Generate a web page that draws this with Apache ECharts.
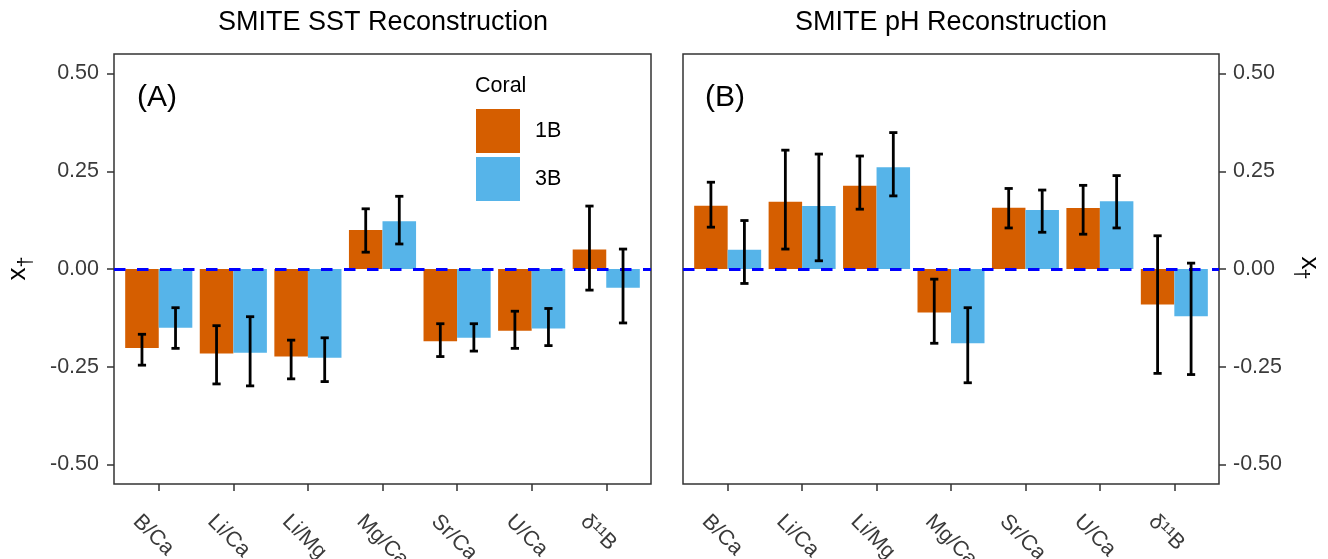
<!DOCTYPE html>
<html><head><meta charset="utf-8">
<script src="https://cdn.jsdelivr.net/npm/echarts@6/dist/echarts.min.js"></script>
<style>html,body{margin:0;padding:0;background:#fff}#c{width:1328px;height:559px}</style>
</head><body><div id="c"></div>
<script>
// ---- data ----
const categories = ['B/Ca', 'Li/Ca', 'Li/Mg', 'Mg/Ca', 'Sr/Ca', 'U/Ca', 'δ¹¹B'];
const positions = [1, 2, 3, 4, 5, 6, 7];
const yTicks = [-0.5, -0.25, 0, 0.25, 0.5];
const seriesNames = ['1B', '3B'];

// (A) SST reconstruction
const sst1B    = [-0.202, -0.216, -0.224, 0.100, -0.185, -0.158, 0.050];
const sst1B_lo = [-0.246, -0.294, -0.281, 0.043, -0.224, -0.203, -0.054];
const sst1B_hi = [-0.167, -0.145, -0.182, 0.154, -0.140, -0.108, 0.161];
const sst3B    = [-0.150, -0.214, -0.227, 0.122, -0.176, -0.152, -0.048];
const sst3B_lo = [-0.203, -0.299, -0.288, 0.064, -0.210, -0.196, -0.138];
const sst3B_hi = [-0.099, -0.122, -0.176, 0.186, -0.140, -0.101, 0.051];

// (B) pH reconstruction
const ph1B    = [0.162, 0.172, 0.213, -0.111, 0.157, 0.156, -0.091];
const ph1B_lo = [0.107, 0.051, 0.153, -0.190, 0.105, 0.089, -0.267];
const ph1B_hi = [0.222, 0.304, 0.289, -0.026, 0.206, 0.214, 0.085];
const ph3B    = [0.049, 0.161, 0.260, -0.190, 0.151, 0.173, -0.121];
const ph3B_lo = [-0.037, 0.021, 0.187, -0.291, 0.094, 0.105, -0.270];
const ph3B_hi = [0.124, 0.294, 0.349, -0.099, 0.202, 0.239, 0.015];

// ---- styling ----
const FONT = '"Liberation Sans", Arial, Helvetica, sans-serif';
const C1 = '#D55E00', C2 = '#56B4E9';
const AX = '#333333', LAB = '#3a3a3a';

function barData(vals) { return vals.map((v, i) => [positions[i], v]); }
function errData(lo, hi, side) { return lo.map((l, i) => [positions[i], l, hi[i], side]); }

function renderErr(params, api) {
  const x = api.value(0), lo = api.value(1), hi = api.value(2), side = api.value(3);
  const band = api.size([1, 0])[0];
  const cx = api.coord([x, 0])[0] + side * band * 0.225;
  const yl = api.coord([x, lo])[1], yh = api.coord([x, hi])[1];
  const cap = band * 0.055;
  const style = { stroke: '#000', lineWidth: 2.8, fill: null };
  return { type: 'group', children: [
    { type: 'line', shape: { x1: cx, y1: yl, x2: cx, y2: yh }, style },
    { type: 'line', shape: { x1: cx - cap, y1: yl, x2: cx + cap, y2: yl }, style },
    { type: 'line', shape: { x1: cx - cap, y1: yh, x2: cx + cap, y2: yh }, style }
  ]};
}

function xAxis(gi) {
  return {
    type: 'value', gridIndex: gi, min: 0.4, max: 7.6,
    splitLine: { show: false }, axisLine: { show: false, onZero: false },
    axisTick: { show: true, customValues: positions, length: 7, lineStyle: { color: AX, width: 1.5 } },
    axisLabel: {
      customValues: positions, formatter: v => ' \n' + categories[Math.round(v) - 1],
      rotate: -45, margin: 12, lineHeight: 63,
      fontSize: 21.5, color: LAB, fontFamily: FONT
    }
  };
}
function yAxis(gi, pos, margin) {
  return {
    type: 'value', gridIndex: gi, position: pos, min: -0.55, max: 0.55,
    splitLine: { show: false }, axisLine: { show: false, onZero: false },
    axisTick: { show: true, customValues: yTicks, length: 7, lineStyle: { color: AX, width: 1.5 } },
    axisLabel: { customValues: yTicks, formatter: v => v.toFixed(2), margin: margin,
      fontSize: 21.5, color: LAB, fontFamily: FONT }
  };
}
function bar(name, gi, vals, color, withLine) {
  const s = {
    type: 'bar', name: name, xAxisIndex: gi, yAxisIndex: gi, data: barData(vals),
    barGap: '0%', barCategoryGap: '10%', itemStyle: { color: color }, z: 2, silent: true
  };
  if (withLine) {
    s.markLine = { silent: true, symbol: ['none', 'none'], label: { show: false },
      lineStyle: { color: '#0000FF', type: [11.5, 11.5], width: 2.8 }, data: [{ yAxis: 0 }], z: 3 };
  }
  return s;
}
function err(gi, lo, hi, side) {
  return { type: 'custom', xAxisIndex: gi, yAxisIndex: gi, data: errData(lo, hi, side),
    renderItem: renderErr, encode: { x: 0, y: [1, 2] }, z: 4, silent: true };
}

const txt = (x, y, text, size, align, extra) => Object.assign({
  type: 'text', x: x, y: y, silent: true,
  style: { text: text, font: size + 'px ' + FONT, fill: '#000', align: align, verticalAlign: 'middle' }
}, extra || {});

const chart = echarts.init(document.getElementById('c'), null, { renderer: 'canvas' });
chart.setOption({
  animation: false,
  backgroundColor: '#fff',
  grid: [
    { left: 114, top: 54, width: 537, height: 430, show: true, borderColor: AX, borderWidth: 1.5, containLabel: false, outerBoundsMode: 'none' },
    { left: 683, top: 54, width: 536, height: 430, show: true, borderColor: AX, borderWidth: 1.5, containLabel: false, outerBoundsMode: 'none' }
  ],
  xAxis: [xAxis(0), xAxis(1)],
  yAxis: [yAxis(0, 'left', 15), yAxis(1, 'right', 14)],
  legend: {
    data: seriesNames, orient: 'vertical', left: 476, top: 109, padding: 0,
    itemWidth: 44, itemHeight: 44, itemGap: 4, icon: 'rect', selectedMode: false,
    textStyle: { fontSize: 21.5, color: '#000', fontFamily: FONT, padding: [0, 0, 0, 10] }
  },
  series: [
    bar(seriesNames[0], 0, sst1B, C1, false),
    bar(seriesNames[1], 0, sst3B, C2, true),
    err(0, sst1B_lo, sst1B_hi, -1),
    err(0, sst3B_lo, sst3B_hi, 1),
    bar(seriesNames[0], 1, ph1B, C1, false),
    bar(seriesNames[1], 1, ph3B, C2, true),
    err(1, ph1B_lo, ph1B_hi, -1),
    err(1, ph3B_lo, ph3B_hi, 1)
  ],
  graphic: [
    txt(383, 23, 'SMITE SST Reconstruction', 27, 'center'),
    txt(951, 23, 'SMITE pH Reconstruction', 27, 'center'),
    txt(137, 98, '(A)', 30, 'left'),
    txt(705, 98, '(B)', 30, 'left'),
    txt(475, 86, 'Coral', 21.5, 'left'),
    // left axis title: x with subscript dagger, reading bottom-to-top
    txt(17.5, 274, 'x', 26, 'center', { rotation: Math.PI / 2 }),
    txt(26, 262, '†', 20, 'center', { rotation: Math.PI / 2 }),
    // right axis title: reading top-to-bottom
    txt(1309.5, 263, 'x', 26, 'center', { rotation: -Math.PI / 2 }),
    txt(1301, 274, '†', 20, 'center', { rotation: -Math.PI / 2 })
  ]
});
</script></body></html>
